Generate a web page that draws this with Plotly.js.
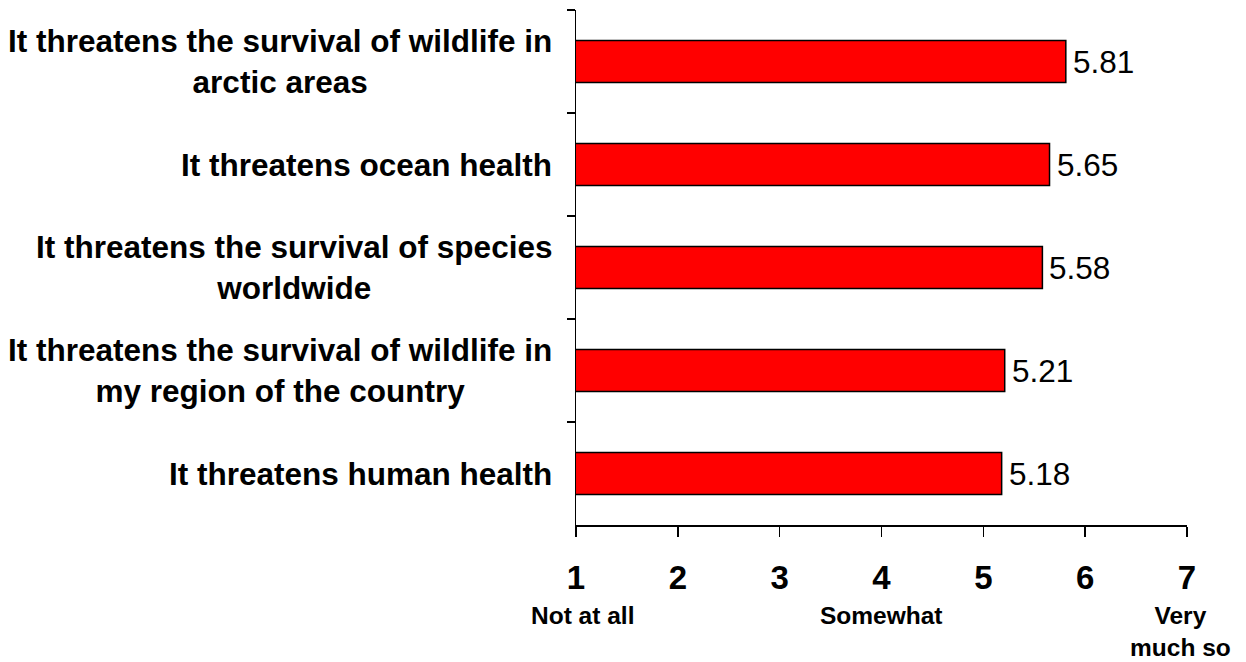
<!DOCTYPE html>
<html>
<head>
<meta charset="utf-8">
<script src="https://cdn.plot.ly/plotly-3.0.1.min.js"></script>
<style>
html, body { margin: 0; padding: 0; background: #fff; }
#chart { width: 1246px; height: 662px; }
</style>
</head>
<body>
<div id="chart"></div>
<script>
// Data
const categories = [
  "It threatens the survival of wildlife in<br>arctic areas",
  "It threatens ocean health",
  "It threatens the survival of species<br>worldwide",
  "It threatens the survival of wildlife in<br>my region of the country",
  "It threatens human health"
];
const values = [5.81, 5.65, 5.58, 5.21, 5.18];
const valueLabels = ["5.81", "5.65", "5.58", "5.21", "5.18"];
const tickValues = [1, 2, 3, 4, 5, 6, 7];
const tickLabels = ["1", "2", "3", "4", "5", "6", "7"];
const scaleLabels = ["Not at all", "Somewhat", "Very<br>much so"];
const scalePositions = [1, 4, 7];

const FONT = '"Liberation Sans", Arial, sans-serif';
const catKeys = categories.map((c, i) => 'c' + i);

const annotations = [];
categories.forEach((c, i) => {
  annotations.push({
    text: '<b>' + c + '</b>',
    xref: 'paper', x: 0, xanchor: 'right', xshift: -22,
    yref: 'y', y: catKeys[i], yanchor: 'middle',
    align: 'center', showarrow: false,
    font: { family: FONT, size: 31.5, color: '#000' }
  });
  annotations.push({
    text: valueLabels[i],
    xref: 'x', x: values[i], xanchor: 'left', xshift: 5,
    yref: 'y', y: catKeys[i], yanchor: 'middle',
    showarrow: false,
    font: { family: FONT, size: 31.5, color: '#000' }
  });
});
const scaleShift = [6, 0, -7];
scaleLabels.forEach((s, i) => {
  annotations.push({
    text: '<b>' + s + '</b>',
    xref: 'x', x: scalePositions[i], xshift: scaleShift[i], xanchor: 'center',
    yref: 'paper', y: -0.145, yanchor: 'top',
    align: 'center', showarrow: false,
    font: { family: FONT, size: 24.5, color: '#000' }
  });
});

const trace = {
  type: 'bar',
  orientation: 'h',
  x: values,
  y: catKeys,
  marker: { color: '#FF0000', line: { color: '#000', width: 1.5 } },
  hoverinfo: 'none'
};

const layout = {
  width: 1246, height: 662,
  margin: { l: 576, r: 59, t: 10, b: 137 },
  paper_bgcolor: '#fff', plot_bgcolor: '#fff',
  showlegend: false,
  bargap: 0.59,
  xaxis: {
    range: [1, 7],
    tickvals: tickValues, ticktext: tickLabels,
    showgrid: false, zeroline: false,
    showline: true, linecolor: '#000', linewidth: 1.5,
    ticks: 'outside', ticklen: 10, tickwidth: 1.5, tickcolor: '#000',
    ticklabelstandoff: 13,
    tickfont: { family: FONT, size: 33, color: '#000', weight: 'bold' }
  },
  yaxis: {
    type: 'category',
    categoryorder: 'array', categoryarray: catKeys,
    autorange: 'reversed',
    showgrid: false, zeroline: false,
    showline: true, linecolor: '#000', linewidth: 1.5,
    ticks: 'outside', ticklen: 8, tickwidth: 1.5, tickcolor: '#000',
    tickson: 'boundaries',
    showticklabels: false
  },
  annotations: annotations
};

Plotly.newPlot('chart', [trace], layout, { displayModeBar: false, staticPlot: true });
</script>
</body>
</html>
